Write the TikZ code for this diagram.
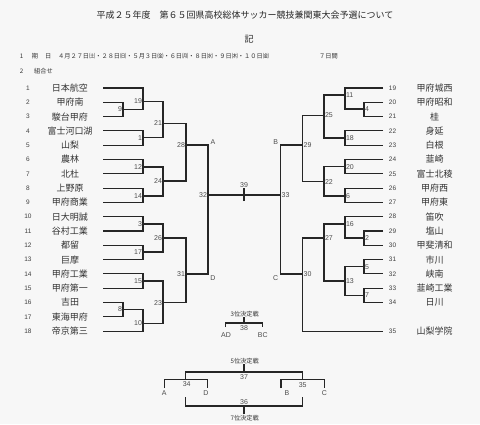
\documentclass[tikz,border=0pt]{standalone}
\usepackage{fontspec}
\setmainfont{Noto Sans CJK JP}
\newfontfamily\numf{Liberation Sans}
\begin{document}
\begin{tikzpicture}[x=1pt,y=-1pt,
  br/.style={line width=1.1pt, draw=black!85},
  tname/.style={font=\fontsize{9}{10}\selectfont, text=black!80, inner sep=0pt},
  tnum/.style={font=\numf\fontsize{6.5}{7}\selectfont, text=black!75, inner sep=0pt},
  mlabL/.style={font=\numf\fontsize{7}{8}\selectfont, text=black!70, inner sep=0.8pt, anchor=east},
  mlabR/.style={font=\numf\fontsize{7}{8}\selectfont, text=black!70, inner sep=0.8pt, anchor=west},
  lab/.style={font=\numf\fontsize{7}{8}\selectfont, text=black!70, inner sep=0pt},
  small/.style={font=\fontsize{6.2}{7}\selectfont, text=black!80, inner sep=0pt},
  ttl/.style={font=\fontsize{9}{10}\selectfont, text=black!85, inner sep=0pt}]
\fill[white!97!black] (0,0) rectangle (480,424);
\useasboundingbox (0,0) rectangle (480,424);

% header
\node[ttl] (title) at (245,15) {平成２５年度　第６５回県高校総体サッカー競技兼関東大会予選について};
\node[ttl] (ki) at (249,39.5) {記};
\node[small] (h1) at (21.7,56) {1};
\node[small] (h1a) at (35,56) {期};
\node[small] (h1b) at (48.3,56) {日};
\node[small, anchor=west] (h1c) at (58,56) {４月２７日㈯・２８日㈰・５月３日㈮・６日㈪・８日㈬・９日㈭・１０日㈮};
\node[small, anchor=west] (h1d) at (319,56) {７日間};
\node[small] (h2) at (21.7,71) {2};
\node[small, anchor=west] (h2a) at (34,71) {組合せ};

% left teams
\foreach \i/\n in {1/日本航空,2/甲府南,3/駿台甲府,4/富士河口湖,5/山梨,6/農林,7/北杜,8/上野原,9/甲府商業,10/日大明誠,11/谷村工業,12/都留,13/巨摩,14/甲府工業,15/甲府第一,16/吉田,17/東海甲府,18/帝京第三}{
  \pgfmathsetmacro\yy{88+(\i-1)*14.3}
  \node[tnum] (n\i) at (28,\yy) {\i};
  \node[tname] (t\i) at (70,\yy) {\n};
  \coordinate (s\i) at (103,\yy);
}
% right teams
\foreach \i/\n in {19/甲府城西,20/甲府昭和,21/桂,22/身延,23/白根,24/韮崎,25/富士北稜,26/甲府西,27/甲府東,28/笛吹,29/塩山,30/甲斐清和,31/市川,32/峡南,33/韮崎工業,34/日川}{
  \pgfmathsetmacro\yy{88+(\i-19)*14.3}
  \node[tnum] (n\i) at (392.5,\yy) {\i};
  \node[tname] (t\i) at (434.5,\yy) {\n};
  \coordinate (s\i) at (383,\yy);
}
\node[tnum] (n35) at (392.5,331.1) {35};
\node[tname] (t35) at (434.5,331.1) {山梨学院};
\coordinate (s35) at (383,331.1);

% left match points
\coordinate (o9) at (123,109.5);
\coordinate (o19) at (143,101.5);
\coordinate (o1) at (143,137.7);
\coordinate (o21) at (163,123.5);
\coordinate (o12) at (143,167);
\coordinate (o14) at (143,196);
\coordinate (o24) at (163,181);
\coordinate (o28) at (186,145);
\coordinate (o3) at (143,224);
\coordinate (o17) at (143,252);
\coordinate (o26) at (163,238);
\coordinate (o15) at (143,281);
\coordinate (o8) at (123,309.5);
\coordinate (o10) at (143,323.5);
\coordinate (o23) at (163,302.7);
\coordinate (o31) at (186,274);
\coordinate (o32) at (208,195);
% right match points
\coordinate (o4) at (364,109);
\coordinate (o11) at (345,95);
\coordinate (o18) at (345,138);
\coordinate (o25) at (324,115.5);
\coordinate (o20) at (345,166.7);
\coordinate (o6) at (345,196);
\coordinate (o22) at (324,181.7);
\coordinate (o29) at (302.7,145);
\coordinate (o2) at (364,238);
\coordinate (o16) at (345,224);
\coordinate (o5) at (364,266.7);
\coordinate (o7) at (364,295.5);
\coordinate (o13) at (345,281);
\coordinate (o27) at (324,238);
\coordinate (o30) at (302.7,274);
\coordinate (o33) at (280.7,195);

% left brackets
\draw[br] (s2) -| (o9) |- (s3);
\draw[br] (s1) -| (o19) |- (o9);
\draw[br] (s4) -| (o1) |- (s5);
\draw[br] (o19) -| (o21) |- (o1);
\draw[br] (s6) -| (o12) |- (s7);
\draw[br] (s8) -| (o14) |- (s9);
\draw[br] (o12) -| (o24) |- (o14);
\draw[br] (o21) -| (o28) |- (o24);
\draw[br] (s10) -| (o3) |- (s11);
\draw[br] (s12) -| (o17) |- (s13);
\draw[br] (o3) -| (o26) |- (o17);
\draw[br] (s14) -| (o15) |- (s15);
\draw[br] (s16) -| (o8) |- (s17);
\draw[br] (o8) -| (o10) |- (s18);
\draw[br] (o15) -| (o23) |- (o10);
\draw[br] (o26) -| (o31) |- (o23);
\draw[br] (o28) -| (o32) |- (o31);
% right brackets
\draw[br] (s20) -| (o4) |- (s21);
\draw[br] (s19) -| (o11) |- (o4);
\draw[br] (s22) -| (o18) |- (s23);
\draw[br] (o11) -| (o25) |- (o18);
\draw[br] (s24) -| (o20) |- (s25);
\draw[br] (s26) -| (o6) |- (s27);
\draw[br] (o20) -| (o22) |- (o6);
\draw[br] (o25) -| (o29) |- (o22);
\draw[br] (s29) -| (o2) |- (s30);
\draw[br] (s28) -| (o16) |- (o2);
\draw[br] (s31) -| (o5) |- (s32);
\draw[br] (s33) -| (o7) |- (s34);
\draw[br] (o5) -| (o13) |- (o7);
\draw[br] (o16) -| (o27) |- (o13);
\draw[br] (o27) -| (o30) |- (s35);
\draw[br] (o29) -| (o33) |- (o30);
% final
\draw[br] (o32) -- (o33);
\coordinate (c39) at (244,195);
\draw[br] ([yshift=-6pt]c39) -- ([yshift=7pt]c39);
\node[lab] (m39) at (244,185) {39};

% match labels left
\foreach \m in {9,19,1,21,12,14,24,28,3,17,26,15,8,10,23,31,32}{
  \node[mlabL] (m\m) at (o\m) {\m};
}
\foreach \m in {4,11,18,25,20,6,22,29,2,16,5,7,13,27,30,33}{
  \node[mlabR] (m\m) at (o\m) {\m};
}
\node[lab] (lA) at (213,142) {A};
\node[lab] (lD) at (213,277.7) {D};
\node[lab] (lB) at (275.7,141.7) {B};
\node[lab] (lC) at (275.7,277.7) {C};

% 3rd place
\node[small] (k3) at (244.7,314) {3位決定戦};
\draw[br] (244,317) -- (244,323);
\draw[br] (225.7,327) |- (262.7,323) -- (262.7,327);
\node[lab] (m38) at (244,327.7) {38};
\node[lab] (lAD) at (226,335) {AD};
\node[lab] (lBC) at (262.7,335) {BC};

% 5th place
\node[small] (k5) at (244.7,360.7) {5位決定戦};
\draw[br] (244,364) -- (244,372);
\draw[br] (185.7,379.3) |- (302.3,372) -- (302.3,379.3);
\node[lab] (m37) at (244,377) {37};
\draw[br] (164.3,388) |- (207.7,379.3) -- (207.7,388);
\node[lab] (m34) at (186.7,384) {34};
\draw[br] (281,388) |- (324.3,379.3) -- (324.3,388);
\node[lab] (m35) at (302.7,385) {35};
\node[lab] (bA) at (164.3,392.7) {A};
\node[lab] (bD) at (206,392.7) {D};
\node[lab] (bB) at (287,392.7) {B};
\node[lab] (bC) at (324.3,392.7) {C};
% 7th place
\draw[br] (185.7,397.3) |- (302.3,406) -- (302.3,397.3);
\draw[br] (244,406) -- (244,414);
\node[lab] (m36) at (244,402.3) {36};
\node[small] (k7) at (244.7,417.7) {7位決定戦};
\end{tikzpicture}
\end{document}
